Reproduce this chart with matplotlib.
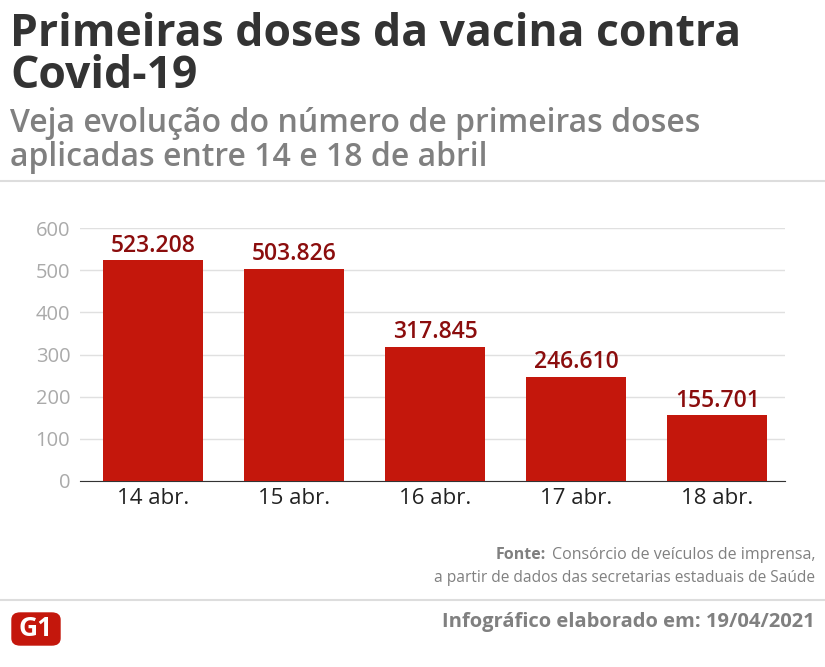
import matplotlib
matplotlib.use("Agg")
import matplotlib.pyplot as plt
from matplotlib.patches import FancyBboxPatch

plt.rcParams['font.family'] = ['Open Sans', 'DejaVu Sans']

categories = ["14 abr.", "15 abr.", "16 abr.", "17 abr.", "18 abr."]
values = [523.208, 503.826, 317.845, 246.610, 155.701]
labels = ["523.208", "503.826", "317.845", "246.610", "155.701"]
yticks = [0, 100, 200, 300, 400, 500, 600]

W, H = 825, 667
fig = plt.figure(figsize=(W/100, H/100), dpi=100)

def fx(x): return x / W
def fy(y): return 1 - y / H

fig.text(fx(10), fy(35), "Primeiras doses da vacina contra", fontsize=32, fontweight='bold', color='#333333', va='center')
fig.text(fx(10), fy(76), "Covid-19", fontsize=32, fontweight='bold', color='#333333', va='center')
fig.text(fx(10), fy(123), "Veja evolução do número de primeiras doses", fontsize=23, fontweight='semibold', color='#808080', va='center')
fig.text(fx(10), fy(157), "aplicadas entre 14 e 18 de abril", fontsize=23, fontweight='semibold', color='#808080', va='center')
fig.add_artist(plt.Line2D([0, 1], [fy(181), fy(181)], color='#dddddd', lw=1.5))

ax = fig.add_axes([fx(80), fy(481), fx(785-80), (481-228)/H])
x = list(range(len(categories)))
ax.bar(x, values, width=0.71, color='#c4170c', zorder=3)
for xi, v, l in zip(x, values, labels):
    ax.text(xi, v + 6, l, ha='center', va='bottom', fontsize=16.5, fontweight='semibold', color='#8b0d0d')
ax.set_xlim(-0.52, 4.48)
ax.set_ylim(0, 600)
ax.set_yticks(yticks)
ax.set_yticklabels([str(t) for t in yticks], color='#aaaaaa', fontsize=14.5)
ax.set_xticks(x)
ax.set_xticklabels(categories, fontsize=16, color='#222222')
ax.grid(axis='y', color='#e0e0e0', lw=1, zorder=0)
for s in ['top', 'right', 'left']:
    ax.spines[s].set_visible(False)
ax.spines['bottom'].set_color('#333333')
ax.tick_params(axis='both', length=0)
ax.tick_params(axis='y', pad=7)
ax.tick_params(axis='x', pad=5)

t1 = fig.text(fx(815), fy(555), "Consórcio de veículos de imprensa,", fontsize=11.5, color='#808080', ha='right', va='center')
fig.canvas.draw()
bb = t1.get_window_extent()
fig.text(fx(bb.x0 - 6), fy(555), "Fonte:", fontsize=11.5, fontweight='bold', color='#808080', ha='right', va='center')
fig.text(fx(815), fy(578), "a partir de dados das secretarias estaduais de Saúde", fontsize=11.2, color='#808080', ha='right', va='center')
fig.add_artist(plt.Line2D([0, 1], [fy(600), fy(600)], color='#dddddd', lw=1.5))
fig.text(fx(815), fy(622), "Infográfico elaborado em: 19/04/2021", fontsize=14.5, fontweight='bold', color='#808080', ha='right', va='center')

logo = FancyBboxPatch((fx(12), fy(645)), fx(48), (645-613)/H, boxstyle="round,pad=0,rounding_size=0.01",
                      transform=fig.transFigure, color='#c4170c')
fig.add_artist(logo)
fig.text(fx(36), fy(629), "G1", fontsize=19, fontweight='bold', color='white', ha='center', va='center')

fig.savefig("out.png", dpi=100)
